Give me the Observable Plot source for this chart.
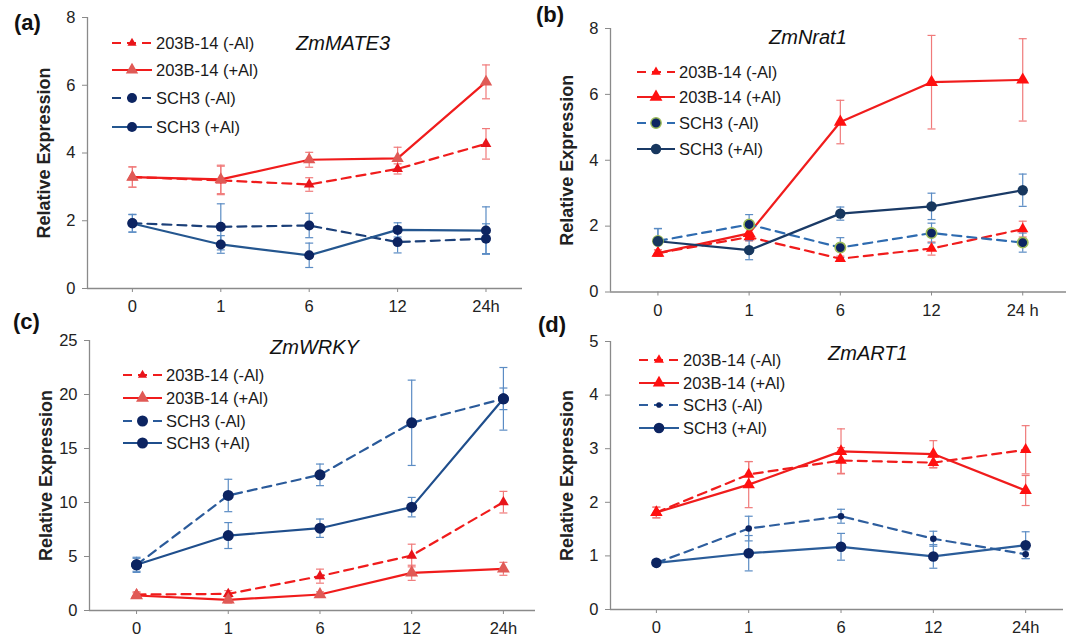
<!DOCTYPE html>
<html><head><meta charset="utf-8">
<script src="https://cdn.jsdelivr.net/npm/d3@7"></script>
<script src="https://cdn.jsdelivr.net/npm/@observablehq/plot@0.6"></script>
<style>
body{margin:0;background:#fff;font-family:"Liberation Sans",Arial,sans-serif;}
#root{position:relative;width:1072px;height:640px;overflow:hidden;}
.panel{position:absolute;}
.lab{position:absolute;font-weight:bold;font-size:22px;color:#111;line-height:1;}
.gene{position:absolute;font-style:italic;font-size:20px;color:#111;line-height:1;}
.leg{position:absolute;display:flex;align-items:center;font-size:16.5px;color:#1a1a1a;line-height:1;white-space:nowrap;}
.leg svg{margin-right:4px;}
[aria-label="y-axis label"] text{font-weight:bold;font-size:18px;}
</style></head><body><div id="root"></div>
<script>
const times = ["0", "1", "6", "12", "24h"];
const timesB = ["0", "1", "6", "12", "24 h"];
const seriesNames = ["203B-14 (-Al)", "203B-14 (+Al)", "SCH3 (-Al)", "SCH3 (+Al)"];

// (a) ZmMATE3
const mateA_203minus = [3.29, 3.19, 3.07, 3.53, 4.27];
const mateA_203minusErr = [0.30, 0.42, 0.20, 0.15, 0.45];
const mateA_203plus = [3.29, 3.22, 3.80, 3.84, 6.10];
const mateA_203plusErr = [0.30, 0.42, 0.22, 0.33, 0.50];
const mateA_SCHminus = [1.93, 1.82, 1.86, 1.37, 1.47];
const mateA_SCHminusErr = [0.26, 0.68, 0.36, 0.32, 0.44];
const mateA_SCHplus = [1.92, 1.30, 0.98, 1.73, 1.71];
const mateA_SCHplusErr = [0.26, 0.26, 0.36, 0.21, 0.70];

// (b) ZmNrat1
const nratB_203minus = [1.18, 1.67, 1.01, 1.32, 1.91];
const nratB_203minusErr = [0.10, 0.12, 0.08, 0.20, 0.24];
const nratB_203plus = [1.18, 1.78, 5.16, 6.37, 6.44];
const nratB_203plusErr = [0.10, 0.15, 0.66, 1.42, 1.25];
const nratB_SCHminus = [1.55, 2.05, 1.35, 1.79, 1.50];
const nratB_SCHminusErr = [0.38, 0.30, 0.30, 0.30, 0.29];
const nratB_SCHplus = [1.54, 1.27, 2.38, 2.60, 3.09];
const nratB_SCHplusErr = [0.38, 0.29, 0.20, 0.40, 0.49];

// (c) ZmWRKY
const wrkyC_203minus = [1.48, 1.54, 3.18, 5.09, 10.03];
const wrkyC_203minusErr = [0.25, 0.30, 0.65, 1.05, 1.00];
const wrkyC_203plus = [1.39, 0.99, 1.48, 3.49, 3.86];
const wrkyC_203plusErr = [0.25, 0.30, 0.25, 0.70, 0.60];
const wrkyC_SCHminus = [4.23, 10.65, 12.56, 17.38, 19.60];
const wrkyC_SCHminusErr = [0.70, 1.50, 1.00, 3.95, 2.90];
const wrkyC_SCHplus = [4.23, 6.94, 7.62, 9.57, 19.60];
const wrkyC_SCHplusErr = [0.60, 1.20, 0.85, 0.90, 1.00];

// (d) ZmART1
const art1D_203minus = [1.81, 2.52, 2.78, 2.74, 2.98];
const art1D_203minusErr = [0.10, 0.24, 0.24, 0.10, 0.45];
const art1D_203plus = [1.81, 2.33, 2.95, 2.90, 2.22];
const art1D_203plusErr = [0.10, 0.43, 0.42, 0.25, 0.28];
const art1D_SCHminus = [0.87, 1.51, 1.74, 1.32, 1.03];
const art1D_SCHminusErr = [0.05, 0.23, 0.13, 0.14, 0.08];
const art1D_SCHplus = [0.87, 1.05, 1.17, 0.99, 1.20];
const art1D_SCHplusErr = [0.05, 0.33, 0.25, 0.22, 0.25];

const yTicksA = [0, 2, 4, 6, 8];
const yTicksB = [0, 2, 4, 6, 8];
const yTicksC = [0, 5, 10, 15, 20, 25];
const yTicksD = [0, 1, 2, 3, 4, 5];

const RED = "#f01c1c", RED_MK = "#e8141a", SALMON = "#e05a56", RED_ERR = "#f07a7a";
const NAVY = "#0c2461", BLUE_ERR = "#5b8cc4";

const capSymbol = {draw(ctx, size) { const r = Math.sqrt(size / Math.PI); ctx.moveTo(-r, 0); ctx.lineTo(r, 0); }};

const panels = [
  {key: "a", gene: "ZmMATE3", ticks: times, yTicks: yTicksA, yDomain: [0, 8], xDomain: [-0.508, 4.413],
   left: 0, top: 0, width: 536, height: 320, margins: [17, 14, 32, 87],
   values: [mateA_203minus, mateA_203plus, mateA_SCHminus, mateA_SCHplus],
   errs: [mateA_203minusErr, mateA_203plusErr, mateA_SCHminusErr, mateA_SCHplusErr],
   styles: [
     {stroke: RED, dash: "9,6", symbol: "triangle", fill: RED_MK, r: 4, err: RED_ERR},
     {stroke: RED, dash: null, symbol: "triangle", fill: SALMON, r: 4.6, err: RED_ERR},
     {stroke: "#1b3f78", dash: "9,6", symbol: "circle", fill: NAVY, r: 5, err: BLUE_ERR},
     {stroke: "#24568f", dash: null, symbol: "circle", fill: NAVY, r: 5, err: BLUE_ERR}],
   lab: {x: 14, y: 12}, geneAt: {x: 296, y: 33},
   legend: {x: 112, ys: [43, 70, 98, 127], len: 40}},
  {key: "b", gene: "ZmNrat1", ticks: timesB, yTicks: yTicksB, yDomain: [0, 8], xDomain: [-0.52, 4.48],
   left: 536, top: 0, width: 536, height: 320, margins: [28, 6, 28.5, 74],
   values: [nratB_203minus, nratB_203plus, nratB_SCHminus, nratB_SCHplus],
   errs: [nratB_203minusErr, nratB_203plusErr, nratB_SCHminusErr, nratB_SCHplusErr],
   styles: [
     {stroke: RED, dash: "9,6", symbol: "triangle", fill: "#ff1010", r: 4.2, err: RED_ERR},
     {stroke: RED, dash: null, symbol: "triangle", fill: "#ff1010", r: 4.8, err: RED_ERR},
     {stroke: "#2e6bb0", dash: "9,6", symbol: "circle", fill: NAVY, r: 5.2, err: BLUE_ERR, mstroke: "#9bbb59"},
     {stroke: "#1a3a66", dash: null, symbol: "circle", fill: "#17375e", r: 5.2, err: BLUE_ERR}],
   lab: {x: 536, y: 4}, geneAt: {x: 769, y: 27},
   legend: {x: 637, ys: [72, 97, 123, 149], len: 38}},
  {key: "c", gene: "ZmWRKY", ticks: times, yTicks: yTicksC, yDomain: [0, 25], xDomain: [-0.513, 4.35],
   left: 0, top: 320, width: 536, height: 320, margins: [20, 1, 30, 89],
   values: [wrkyC_203minus, wrkyC_203plus, wrkyC_SCHminus, wrkyC_SCHplus],
   errs: [wrkyC_203minusErr, wrkyC_203plusErr, wrkyC_SCHminusErr, wrkyC_SCHplusErr],
   styles: [
     {stroke: RED, dash: "9,6", symbol: "triangle", fill: RED_MK, r: 4, err: RED_ERR},
     {stroke: RED, dash: null, symbol: "triangle", fill: SALMON, r: 4.8, err: RED_ERR},
     {stroke: "#2a5a9a", dash: "9,6", symbol: "circle", fill: NAVY, r: 5.5, err: BLUE_ERR},
     {stroke: "#1f4e8c", dash: null, symbol: "circle", fill: NAVY, r: 5.5, err: BLUE_ERR}],
   lab: {x: 13, y: 311}, geneAt: {x: 270, y: 337},
   legend: {x: 123, ys: [375, 398, 421, 443], len: 39}},
  {key: "d", gene: "ZmART1", ticks: times, yTicks: yTicksD, yDomain: [0, 5], xDomain: [-0.497, 4.41],
   left: 536, top: 320, width: 536, height: 320, margins: [21, 9, 31, 74],
   values: [art1D_203minus, art1D_203plus, art1D_SCHminus, art1D_SCHplus],
   errs: [art1D_203minusErr, art1D_203plusErr, art1D_SCHminusErr, art1D_SCHplusErr],
   styles: [
     {stroke: RED, dash: "9,6", symbol: "triangle", fill: "#ff1010", r: 4.3, err: RED_ERR},
     {stroke: RED, dash: null, symbol: "triangle", fill: "#ff1010", r: 4.6, err: RED_ERR},
     {stroke: "#2e5e9e", dash: "9,6", symbol: "circle", fill: NAVY, r: 3.3, err: BLUE_ERR},
     {stroke: "#2a5c99", dash: null, symbol: "circle", fill: NAVY, r: 5.3, err: BLUE_ERR}],
   lab: {x: 538, y: 314}, geneAt: {x: 828, y: 343},
   legend: {x: 639, ys: [360, 383, 405, 428], len: 40}}
];

const root = document.getElementById("root");

for (const p of panels) {
  const rows = [];
  p.values.forEach((vals, s) => vals.forEach((v, i) => rows.push({s, i, y: v, e: p.errs[s][i]})));
  const bySeries = seriesNames.map((_, s) => rows.filter(d => d.s === s));
  const marks = [];
  marks.push(Plot.ruleY([p.yDomain[0]], {stroke: "#8a8a8a", strokeWidth: 1.3}));
  marks.push(Plot.ruleX([p.xDomain[0]], {stroke: "#8a8a8a", strokeWidth: 1.3}));
  marks.push(Plot.axisY({ticks: p.yTicks, tickFormat: d => String(d), tickSize: 5, tickPadding: 7, stroke: "#8a8a8a",
    label: "Relative Expression", labelAnchor: "center", labelArrow: "none", labelOffset: 50}));
  marks.push(Plot.axisX({ticks: [0, 1, 2, 3, 4], tickFormat: i => p.ticks[i], tickSize: 4, tickPadding: 8,
    stroke: "#8a8a8a", label: null}));
  bySeries.forEach((data, s) => {
    const st = p.styles[s];
    marks.push(Plot.ruleX(data, {x: "i", y1: d => d.y - d.e, y2: d => d.y + d.e, stroke: st.err, strokeWidth: 1.2}));
    marks.push(Plot.dot(data, {x: "i", y: d => d.y + d.e, symbol: capSymbol, r: 4, stroke: st.err, strokeWidth: 1.2, fill: "none"}));
    marks.push(Plot.dot(data, {x: "i", y: d => d.y - d.e, symbol: capSymbol, r: 4, stroke: st.err, strokeWidth: 1.2, fill: "none"}));
  });
  bySeries.forEach((data, s) => {
    const st = p.styles[s];
    marks.push(Plot.line(data, {x: "i", y: "y", stroke: st.stroke, strokeWidth: 2.2, strokeDasharray: st.dash || undefined}));
  });
  bySeries.forEach((data, s) => {
    const st = p.styles[s];
    marks.push(Plot.dot(data, {x: "i", y: "y", symbol: st.symbol, r: st.r, fill: st.fill,
      stroke: st.mstroke || "none", strokeWidth: st.mstroke ? 1.6 : 0}));
  });

  const chart = Plot.plot({
    width: p.width, height: p.height,
    marginTop: p.margins[0], marginRight: p.margins[1], marginBottom: p.margins[2], marginLeft: p.margins[3],
    style: {fontFamily: '"Liberation Sans", Arial, sans-serif', fontSize: "16.5px", color: "#222", background: "transparent", overflow: "visible"},
    x: {type: "linear", domain: p.xDomain},
    y: {domain: p.yDomain},
    marks
  });
  const wrap = document.createElement("div");
  wrap.className = "panel";
  wrap.style.left = p.left + "px"; wrap.style.top = p.top + "px";
  wrap.appendChild(chart);
  root.appendChild(wrap);

  const lab = document.createElement("div");
  lab.className = "lab"; lab.textContent = "(" + p.key + ")";
  lab.style.left = p.lab.x + "px"; lab.style.top = p.lab.y + "px";
  root.appendChild(lab);
  const g = document.createElement("div");
  g.className = "gene"; g.textContent = p.gene;
  g.style.left = p.geneAt.x + "px"; g.style.top = p.geneAt.y + "px";
  root.appendChild(g);
  seriesNames.forEach((name, s) => {
    const st = p.styles[s];
    const item = document.createElement("div");
    item.className = "leg";
    item.style.left = p.legend.x + "px"; item.style.top = (p.legend.ys[s] - 9) + "px"; item.style.height = "18px";
    const L = p.legend.len;
    const svg = d3.create("svg").attr("width", L).attr("height", 18);
    svg.append("line").attr("x1", 0).attr("x2", L).attr("y1", 9).attr("y2", 9)
      .attr("stroke", st.stroke).attr("stroke-width", 2.2).attr("stroke-dasharray", st.dash || null);
    const small = s === 0 || (p.key === "d" && s === 2);
    const rr = small ? st.r * 0.85 : st.r;
    const sym = st.symbol === "triangle" ? d3.symbolTriangle : d3.symbolCircle;
    svg.append("path").attr("d", d3.symbol(sym, Math.PI * rr * rr)())
      .attr("transform", `translate(${L / 2},9)`).attr("fill", st.fill)
      .attr("stroke", st.mstroke || "none").attr("stroke-width", st.mstroke ? 1.4 : 0);
    item.appendChild(svg.node());
    const t = document.createElement("span"); t.textContent = name;
    item.appendChild(t);
    root.appendChild(item);
  });
}
</script></body></html>
